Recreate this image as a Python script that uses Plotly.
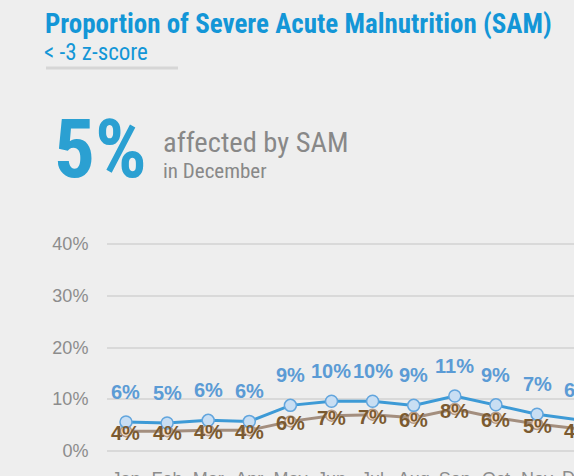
import plotly.graph_objects as go

months = ["Jan", "Feb", "Mar", "Apr", "May", "Jun", "Jul", "Aug", "Sep", "Oct", "Nov", "Dec"]
sam_blue = [0.056, 0.054, 0.059, 0.057, 0.088, 0.096, 0.096, 0.088, 0.106, 0.089, 0.071, 0.060]
blue_labels = ["6%", "5%", "6%", "6%", "9%", "10%", "10%", "9%", "11%", "9%", "7%", "6%"]
sam_brown = [0.038, 0.038, 0.040, 0.040, 0.057, 0.068, 0.070, 0.064, 0.081, 0.064, 0.052, 0.043]
brown_labels = ["4%", "4%", "4%", "4%", "6%", "7%", "7%", "6%", "8%", "6%", "5%", "4%"]
y_ticks = [0, 0.1, 0.2, 0.3, 0.4]
y_tick_text = ["0%", "10%", "20%", "30%", "40%"]

W, H = 574, 476
ML, MR, MT, MB = 107, 0, 239, 20
PW, PH = W - ML - MR, H - MT - MB
XR = [-0.462, 10.9]

def px(x):
    return (x - ML) / PW

def py(y):
    return (H - MB - y) / PH

def cat_to_paper(i):
    return (i - XR[0]) / (XR[1] - XR[0])

BG = "#eeeeee"
fig = go.Figure()
xi = list(range(len(months)))
fig.add_trace(go.Scatter(
    x=xi, y=sam_brown, mode="lines+markers", cliponaxis=False,
    line=dict(color="#a38e7e", width=3),
    marker=dict(size=11, color="#f3e0d2", line=dict(color="#b59b88", width=1.5)),
    hoverinfo="skip", showlegend=False))
fig.add_trace(go.Scatter(
    x=xi, y=sam_blue, mode="lines+markers", cliponaxis=False,
    line=dict(color="#3d9ad6", width=3),
    marker=dict(size=12, color="#c8def3", line=dict(color="#62a5dd", width=1.5)),
    hoverinfo="skip", showlegend=False))

lab_font = "Liberation Sans, Arial, sans-serif"
for i in xi:
    xp = cat_to_paper(i)
    fig.add_annotation(x=xp, y=sam_blue[i], xref="paper", yref="y", xanchor="center", yanchor="middle",
                       text="<b>%s</b>" % blue_labels[i],
                       showarrow=False, yshift=30, font=dict(family=lab_font, size=20, color="#5b9bd5"))
    fig.add_annotation(x=xp, y=sam_brown[i], xref="paper", yref="y", xanchor="center", yanchor="middle",
                       text="<b>%s</b>" % brown_labels[i],
                       showarrow=False, yshift=-2, font=dict(family=lab_font, size=20, color="#7b5a30"))

# Dec tick label (beyond visible range)
fig.add_annotation(x=cat_to_paper(11), y=0, xref="paper", yref="paper", xanchor="center", yanchor="top",
                   yshift=-10, text="Dec", showarrow=False,
                   font=dict(family=lab_font, size=18, color="#8c8c8c"))

narrow = "Roboto Condensed, Liberation Sans Narrow, sans-serif"
fig.add_annotation(xref="paper", yref="paper", x=px(43), y=py(24), xanchor="left", yanchor="middle",
                   text="<b>Proportion of Severe Acute Malnutrition (SAM)</b>", showarrow=False,
                   font=dict(family=narrow, size=27, color="#1396d7"))
fig.add_annotation(xref="paper", yref="paper", x=px(42), y=py(52), xanchor="left", yanchor="middle",
                   text="&lt; -3 z-score", showarrow=False,
                   font=dict(family=narrow, size=23, color="#1396d7"))
fig.add_shape(type="rect", xref="paper", yref="paper", x0=px(46), x1=px(178), y0=py(66.5), y1=py(69.5),
              fillcolor="#d6d6d6", line=dict(width=0))
fig.add_annotation(xref="paper", yref="paper", x=px(52), y=py(149), xanchor="left", yanchor="middle",
                   text="<b>5%</b>", showarrow=False,
                   font=dict(family=narrow, size=81, color="#2ba0d2"))
fig.add_annotation(xref="paper", yref="paper", x=px(161), y=py(142), xanchor="left", yanchor="middle",
                   text="affected by SAM", showarrow=False,
                   font=dict(family=narrow, size=28.5, color="#888888"))
fig.add_annotation(xref="paper", yref="paper", x=px(161), y=py(171), xanchor="left", yanchor="middle",
                   text="in December", showarrow=False,
                   font=dict(family=narrow, size=21, color="#888888"))

fig.update_layout(
    width=W, height=H, margin=dict(l=ML, r=MR, t=MT, b=MB),
    paper_bgcolor=BG, plot_bgcolor=BG, showlegend=False,
    xaxis=dict(range=XR, tickmode="array", tickvals=xi, ticktext=months, automargin=False,
               showgrid=False, zeroline=False, showline=False, ticks="outside", ticklen=6,
               tickcolor=BG, tickfont=dict(family=lab_font, size=18, color="#8c8c8c"), fixedrange=True),
    yaxis=dict(range=[-0.01, 0.41], tickmode="array", tickvals=y_ticks, ticktext=y_tick_text,
               automargin=False,
               showgrid=True, gridcolor="#d9d9d9", gridwidth=1.5, zeroline=False, showline=False,
               ticks="outside", ticklen=14, tickcolor=BG,
               tickfont=dict(family=lab_font, size=18, color="#8c8c8c"), fixedrange=True),
)
fig.write_html("out.html", post_script="document.body.style.margin='0';",
               config={"displayModeBar": False})
